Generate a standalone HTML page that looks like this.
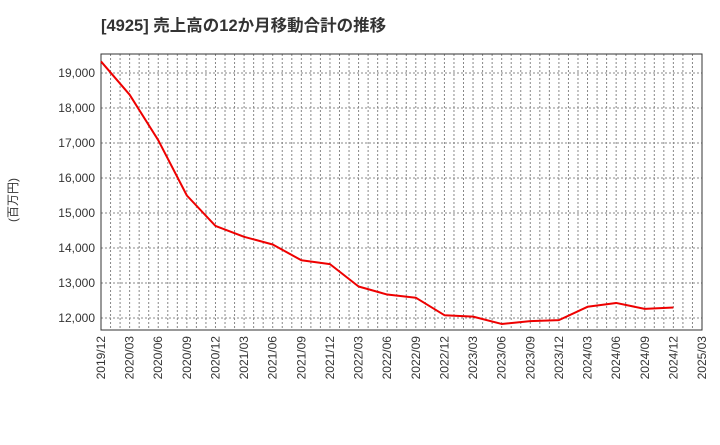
<!DOCTYPE html>
<html><head><meta charset="utf-8"><style>
body{margin:0;background:#fff;}
svg text{font-family:"Liberation Sans","Noto Sans CJK JP",sans-serif;}
</style></head><body>
<svg id="chart" width="720" height="440" xmlns="http://www.w3.org/2000/svg">
<text x="101" y="31" font-size="16.5" font-weight="bold" fill="#333">[4925]  売上高の12か月移動合計の推移</text>
<text transform="translate(17,200) rotate(-90)" text-anchor="middle" font-size="12" fill="#333">(百万円)</text>
<g id="grid"></g><g id="axes"></g><g id="series"></g>
</svg>
<script>
const categories=["2019/12","2020/03","2020/06","2020/09","2020/12","2021/03","2021/06","2021/09","2021/12","2022/03","2022/06","2022/09","2022/12","2023/03","2023/06","2023/09","2023/12","2024/03","2024/06","2024/09","2024/12"];
const xTickLabels=["2019/12","2020/03","2020/06","2020/09","2020/12","2021/03","2021/06","2021/09","2021/12","2022/03","2022/06","2022/09","2022/12","2023/03","2023/06","2023/09","2023/12","2024/03","2024/06","2024/09","2024/12","2025/03"];
const salesValues=[19330,18380,17080,15500,14630,14320,14100,13650,13540,12900,12670,12580,12080,12040,11830,11910,11940,12320,12430,12260,12300];
const yTicks=[12000,13000,14000,15000,16000,17000,18000,19000];
const L=101,R=702,T=54,B=330;
const NS="http://www.w3.org/2000/svg";
const step=(R-L)/(xTickLabels.length-1);
function x(i){return L+i*step;}
function y(v){return 318-(v-12000)*0.035;}
function mk(t,a,p){const e=document.createElementNS(NS,t);for(const k in a)e.setAttribute(k,a[k]);p.appendChild(e);return e;}
const g=document.getElementById('grid'),ax=document.getElementById('axes'),s=document.getElementById('series');
for(let m=1;m<(xTickLabels.length-1)*3;m++){const xx=L+m*step/3;
const l=mk('line',{x1:xx,x2:xx,y1:T,y2:B,stroke:'#888','stroke-dasharray':'2,2','stroke-width':1},g);

}
yTicks.forEach(v=>{const l=mk('line',{x1:L,x2:R,y1:y(v),y2:y(v),stroke:'#888','stroke-dasharray':'2,2','stroke-width':1},g);


const t=mk('text',{x:L-6,y:y(v)+4,'text-anchor':'end','font-size':12,fill:'#333'},ax);t.textContent=v.toLocaleString('en-US');

});
xTickLabels.forEach((c,i)=>{const t=mk('text',{transform:`translate(${x(i)+4},${B+6}) rotate(-90)`,'text-anchor':'end','font-size':12,fill:'#333'},ax);t.textContent=c;

});
const fr=mk('rect',{x:L,y:T,width:R-L,height:B-T,fill:'none',stroke:'#333','stroke-width':1},ax);


const pl=mk('polyline',{points:salesValues.map((v,i)=>x(i)+','+y(v)).join(' '),fill:'none',stroke:'#ee0000','stroke-width':2,'stroke-linejoin':'round'},s);


</script>
</body></html>
